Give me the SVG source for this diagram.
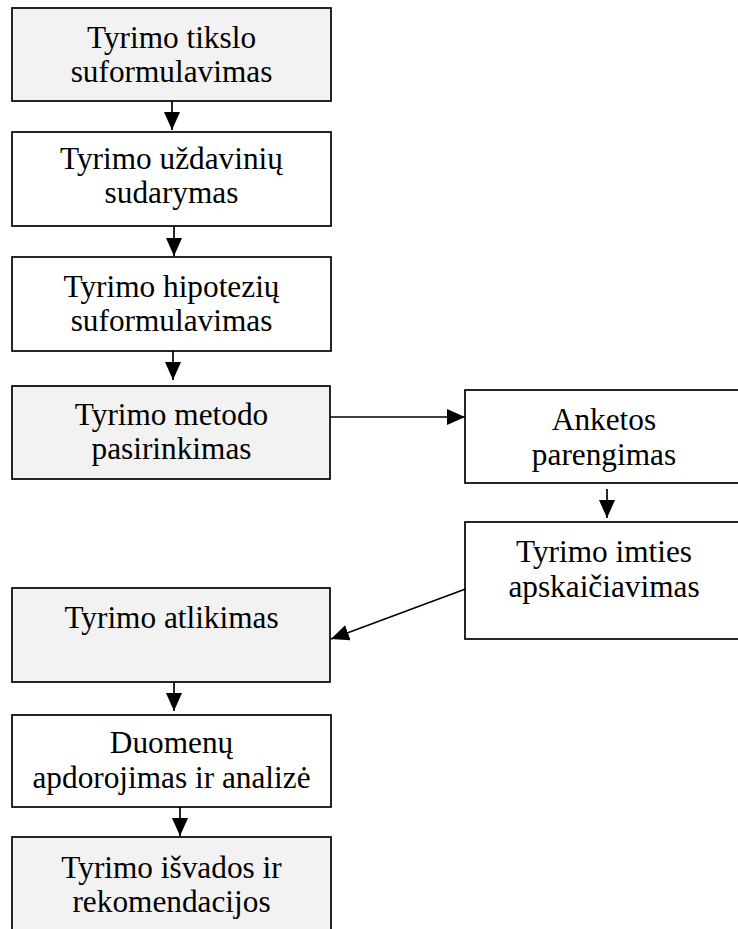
<svg xmlns="http://www.w3.org/2000/svg" width="738" height="929" viewBox="0 0 738 929">
<style>
.box{stroke:#000;stroke-width:1.7}
.g{fill:#f2f2f2}
.w{fill:#fff}
.t{font-family:"Liberation Serif","Times New Roman",serif;font-size:31.3px;fill:#000;text-anchor:middle}
.c{stroke:#000;stroke-width:1.7;fill:none;marker-end:url(#ah)}
</style>
<defs>
<marker id="ah" viewBox="0 0 18 16" refX="18" refY="8" markerWidth="18" markerHeight="16" markerUnits="userSpaceOnUse" orient="auto">
<path d="M0,0 L18,8 L0,16 z" fill="#000"/>
</marker>
</defs>
<rect width="738" height="929" fill="#fff"/>
<g id="n1"><rect class="box g" x="12" y="8" width="319" height="93"/>
<text class="t" x="171.5" y="48">Tyrimo tikslo</text><text class="t" x="171.5" y="82">suformulavimas</text></g>
<g id="n2"><rect class="box w" x="12" y="132" width="319" height="94"/>
<text class="t" x="171.5" y="169">Tyrimo uždavinių</text><text class="t" x="171.5" y="203">sudarymas</text></g>
<g id="n3"><rect class="box w" x="12" y="257" width="319" height="94"/>
<text class="t" x="171.5" y="297">Tyrimo hipotezių</text><text class="t" x="171.5" y="331">suformulavimas</text></g>
<g id="n4"><rect class="box g" x="12" y="386" width="318" height="93"/>
<text class="t" x="171.5" y="425">Tyrimo metodo</text><text class="t" x="171.5" y="459">pasirinkimas</text></g>
<g id="n5"><rect class="box w" x="465" y="390" width="278" height="93"/>
<text class="t" x="604" y="430">Anketos</text><text class="t" x="604" y="465">parengimas</text></g>
<g id="n6"><rect class="box w" x="465" y="522" width="278" height="117"/>
<text class="t" x="604" y="562">Tyrimo imties</text><text class="t" x="604" y="597">apskaičiavimas</text></g>
<g id="n7"><rect class="box g" x="12" y="588" width="318" height="94"/>
<text class="t" x="171.5" y="628">Tyrimo atlikimas</text></g>
<g id="n8"><rect class="box w" x="12" y="715" width="319" height="92"/>
<text class="t" x="171.5" y="753">Duomenų</text><text class="t" x="171.5" y="788">apdorojimas ir analizė</text></g>
<g id="n9"><rect class="box g" x="12" y="837" width="319" height="100"/>
<text class="t" x="171.5" y="878">Tyrimo išvados ir</text><text class="t" x="171.5" y="912">rekomendacijos</text></g>
<g id="connectors">
<line class="c" x1="172" y1="101" x2="172" y2="130"/>
<line class="c" x1="174" y1="226" x2="174" y2="256"/>
<line class="c" x1="173" y1="351" x2="173" y2="380"/>
<line class="c" x1="330" y1="417" x2="465" y2="417"/>
<line class="c" x1="607" y1="489" x2="607" y2="518"/>
<line class="c" x1="465.5" y1="589" x2="331" y2="639"/>
<line class="c" x1="174" y1="682" x2="174" y2="711"/>
<line class="c" x1="180" y1="807" x2="180" y2="836"/>
</g>
</svg>
